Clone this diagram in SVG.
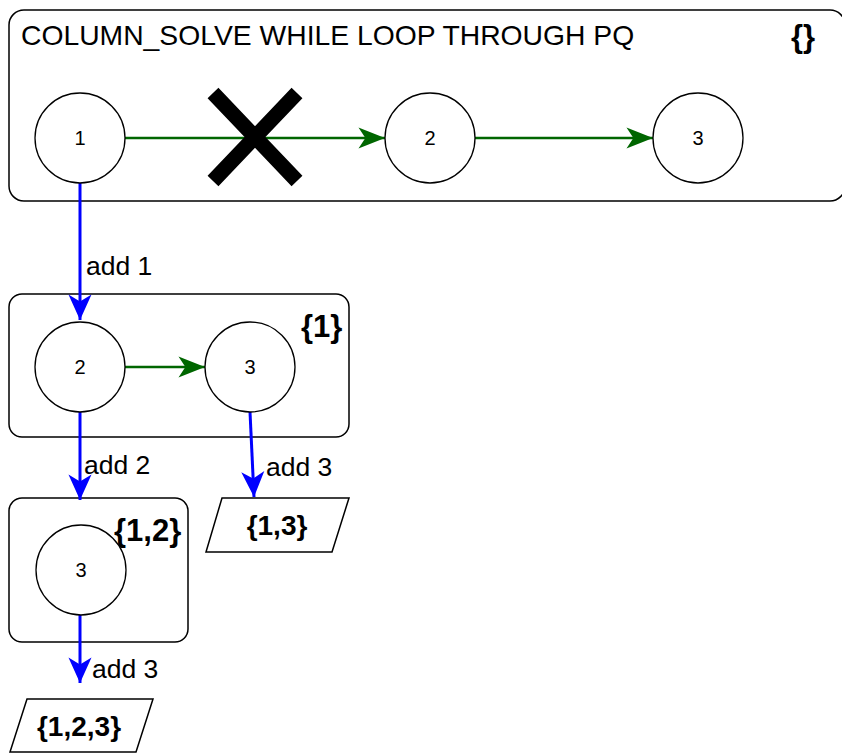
<svg xmlns="http://www.w3.org/2000/svg" width="842" height="753" viewBox="0 0 842 753">
<defs>
<style>
.box{fill:#fff;stroke:#000;stroke-width:1.5}
.node{fill:#fff;stroke:#000;stroke-width:1.3}
.num{font-family:"Liberation Sans",Arial,sans-serif;font-size:20px;text-anchor:middle}
.lbl{font-family:"Liberation Sans",Arial,sans-serif;font-size:26.5px}
.set{font-family:"Liberation Sans",Arial,sans-serif;font-size:28px;font-weight:bold}
.big{font-size:31px}
.title{font-family:"Liberation Sans",Arial,sans-serif;font-size:28.3px}
.g{stroke:#006600;stroke-width:2.5;fill:none;marker-end:url(#ag)}
.b{stroke:#0000ff;stroke-width:3;fill:none;marker-end:url(#ab)}
</style>
<marker id="ag" markerUnits="userSpaceOnUse" markerWidth="30" markerHeight="30" refX="0" refY="0" viewBox="-24 -12 26 24" orient="auto" overflow="visible">
<path d="M-23,-9 L0,0 L-23,9 L-17,0 Z" fill="#006600"/>
</marker>
<marker id="ab" markerUnits="userSpaceOnUse" markerWidth="30" markerHeight="30" refX="0" refY="0" viewBox="-24 -12 26 24" orient="auto" overflow="visible">
<path d="M-22,-10 L0,0 L-22,10 L-16,0 Z" fill="#0000ff"/>
</marker>
</defs>
<g id="container-top">
<rect class="box" x="9" y="10" width="836" height="191" rx="15"/>
<text class="title" x="21" y="45">COLUMN_SOLVE WHILE LOOP THROUGH PQ</text>
<text class="set big" x="791" y="47">{}</text>
</g>
<g id="container-1">
<rect class="box" x="9" y="294" width="340" height="143" rx="13"/>
<text class="set big" x="301" y="337">{1}</text>
</g>
<g id="container-12">
<rect class="box" x="9" y="498" width="179" height="144" rx="13"/>
<text class="set big" x="114" y="541">{1,2}</text>
</g>
<g id="connectors">
<line class="g" x1="125" y1="138" x2="385" y2="138"/>
<line class="g" x1="475" y1="138" x2="653" y2="138"/>
<line class="g" x1="125" y1="367" x2="205" y2="367"/>
<line class="b" x1="80" y1="183" x2="80" y2="320"/>
<line class="b" x1="80" y1="405" x2="80" y2="500"/>
<line class="b" x1="250" y1="412" x2="254" y2="497"/>
<line class="b" x1="80" y1="615" x2="80" y2="683"/>
<text class="lbl" x="86" y="275">add 1</text>
<text class="lbl" x="84" y="474">add 2</text>
<text class="lbl" x="266" y="476">add 3</text>
<text class="lbl" x="92" y="678">add 3</text>
</g>
<g id="cross">
<path d="M213,93 L297,181 M297,93 L213,181" stroke="#000" stroke-width="15" fill="none"/>
</g>
<g id="n1-top"><circle class="node" cx="80" cy="138" r="45"/><text class="num" x="80" y="145">1</text></g>
<g id="n2-top"><circle class="node" cx="430" cy="138" r="45"/><text class="num" x="430" y="145">2</text></g>
<g id="n3-top"><circle class="node" cx="698" cy="138" r="45"/><text class="num" x="698" y="145">3</text></g>
<g id="n2-mid"><circle class="node" cx="80" cy="367" r="45"/><text class="num" x="80" y="374">2</text></g>
<g id="n3-mid"><circle class="node" cx="250" cy="367" r="45"/><text class="num" x="250" y="374">3</text></g>
<g id="n3-low"><circle class="node" cx="81" cy="570" r="45"/><text class="num" x="81" y="577">3</text></g>
<g id="out-13">
<polygon class="box" points="222,498 349,498 332,552 206,552"/>
<text class="set" x="277" y="535" text-anchor="middle">{1,3}</text>
</g>
<g id="out-123">
<polygon class="box" points="27,699 153,699 136,752 10,752"/>
<text class="set" x="79" y="736" text-anchor="middle">{1,2,3}</text>
</g>
</svg>
